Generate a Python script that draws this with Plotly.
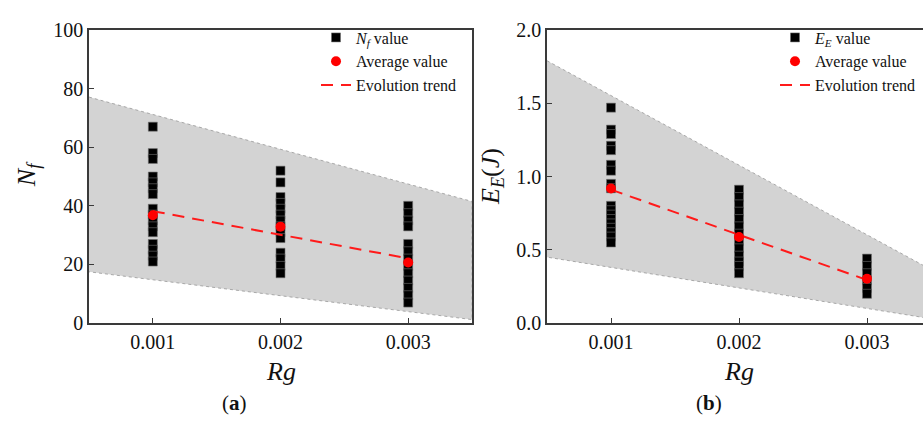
import numpy as np
import plotly.graph_objects as go

# Loading-rate levels (Rg)
rg = [0.001, 0.002, 0.003]

# Individual fatigue lives N_f at each Rg
nf_001 = [67, 58, 56, 50, 48, 46, 44, 39, 37, 35, 33, 31, 27, 25, 23, 21]
nf_002 = [52, 48, 43, 41, 39, 37, 35, 33, 31, 29, 24, 22, 19.5, 17]
nf_003 = [40, 37.5, 35, 33, 27, 24.5, 22, 19.5, 17, 14.5, 12, 9.5, 7]
nf_avg = [36.8, 32.9, 20.7]

# Individual dissipated energies E_E (J) at each Rg
ee_001 = [1.47, 1.32, 1.29, 1.21, 1.18, 1.08, 1.04, 0.95, 0.92,
          0.80, 0.77, 0.74, 0.71, 0.68, 0.65, 0.62, 0.59, 0.55]
ee_002 = [0.91, 0.86, 0.81, 0.76, 0.71, 0.66, 0.61, 0.56, 0.51,
          0.46, 0.42, 0.39, 0.34]
ee_003 = [0.44, 0.39, 0.34, 0.29, 0.24, 0.20]
ee_avg = [0.918, 0.587, 0.302]

# Scatter envelope (upper / lower bounds at both ends of the axis)
band_x = [0.0005, 0.0035]
nf_band_upper = [77.1, 41.5]
nf_band_lower = [17.5, 1.2]
ee_band_upper = [1.79, 0.365]
ee_band_lower = [0.45, 0.03]

FONT = "Times New Roman, Liberation Serif, Tinos, serif"
AXIS_COLOR = "#3a3a3a"
W, H = 923, 428


def px_x(p):
    return p / W


def px_y(p):
    return 1 - p / H


fig = go.Figure()


def add_panel(xa, ya, legend, groups, avg, up, lo, value_label):
    # envelope polygon
    fig.add_trace(go.Scatter(
        x=band_x + band_x[::-1], y=up + lo[::-1],
        fill="toself", fillcolor="#d3d3d3",
        line=dict(color="#a8a8a8", width=1, dash="dot"),
        mode="lines", showlegend=False, hoverinfo="skip",
        xaxis=xa, yaxis=ya,
    ))
    # individual values
    xs, ys = [], []
    for r, vals in zip(rg, groups):
        xs += [r] * len(vals)
        ys += vals
    fig.add_trace(go.Scatter(
        x=xs, y=ys, mode="markers", name=value_label,
        marker=dict(symbol="square", size=9, color="black",
                    line=dict(color="#707070", width=0.6)),
        xaxis=xa, yaxis=ya, legend=legend, legendrank=1,
    ))
    # linear trend of the averages
    k, b = np.polyfit(rg, avg, 1)
    tx = [rg[0], rg[-1]]
    fig.add_trace(go.Scatter(
        x=tx, y=[k * t + b for t in tx], mode="lines",
        name="Evolution trend",
        line=dict(color="#ff1a1a", width=2, dash="12px,8px"),
        xaxis=xa, yaxis=ya, legend=legend, legendrank=3,
    ))
    fig.add_trace(go.Scatter(
        x=rg, y=avg, mode="markers", name="Average value",
        marker=dict(symbol="circle", size=10, color="#ff0000"),
        xaxis=xa, yaxis=ya, legend=legend, legendrank=2,
    ))


add_panel("x", "y", "legend", [nf_001, nf_002, nf_003], nf_avg,
          nf_band_upper, nf_band_lower,
          "<i>N</i><sub><i>f</i></sub> value")
add_panel("x2", "y2", "legend2", [ee_001, ee_002, ee_003], ee_avg,
          ee_band_upper, ee_band_lower,
          "<i>E</i><sub><i>E</i></sub> value")

tick_font = dict(family=FONT, size=20, color="#111111")
axis_common = dict(
    showline=True, linecolor=AXIS_COLOR, linewidth=1.5,
    ticks="inside", ticklen=5, tickcolor=AXIS_COLOR, tickwidth=1.2,
    showgrid=False, zeroline=False, tickfont=tick_font,
)

y_dom = [px_y(329), px_y(20)]

legend_font = dict(family=FONT, size=16, color="#111111")
fig.update_layout(
    width=W, height=H,
    margin=dict(l=0, r=0, t=0, b=0),
    paper_bgcolor="white", plot_bgcolor="white",
    font=dict(family=FONT, color="#111111"),
    xaxis=dict(domain=[px_x(89), px_x(472)], range=[0.0005, 0.0035],
               tickvals=rg, ticktext=["0.001", "0.002", "0.003"],
               mirror=True, anchor="y", **axis_common),
    yaxis=dict(domain=y_dom, range=[0, 100], tickvals=[0, 20, 40, 60, 80, 100],
               mirror=True, anchor="x", **axis_common),
    xaxis2=dict(domain=[px_x(547), 1.0], range=[0.0005, 0.0034375],
                tickvals=rg, ticktext=["0.001", "0.002", "0.003"],
                mirror=True, anchor="y2", **axis_common),
    yaxis2=dict(domain=y_dom, range=[0, 2.0],
                tickvals=[0, 0.5, 1.0, 1.5, 2.0], tickformat=".1f",
                mirror=False, anchor="x2", **axis_common),
    legend=dict(x=px_x(316), y=px_y(10), xanchor="left", yanchor="top",
                bgcolor="rgba(0,0,0,0)", font=legend_font,
                tracegroupgap=0),
    legend2=dict(x=px_x(775), y=px_y(10), xanchor="left", yanchor="top",
                 bgcolor="rgba(0,0,0,0)", font=legend_font,
                 tracegroupgap=0),
)

title_font = dict(family=FONT, size=26, color="#111111")
label_font = dict(family=FONT, size=21, color="#111111")
annotations = [
    dict(text="<i>N<sub>f</sub></i>", x=px_x(28), y=px_y(172),
         textangle=-90, font=title_font),
    dict(text="<i>E<sub>E</sub></i>(<i>J</i>)", x=px_x(492), y=px_y(175),
         textangle=-90, font=title_font),
    dict(text="<i>Rg</i>", x=px_x(281), y=px_y(380), font=title_font),
    dict(text="<i>Rg</i>", x=px_x(739), y=px_y(380), font=title_font),
    dict(text="(<b>a</b>)", x=px_x(234), y=px_y(413), font=label_font),
    dict(text="(<b>b</b>)", x=px_x(709), y=px_y(413), font=label_font),
]
for a in annotations:
    fig.add_annotation(xref="paper", yref="paper", showarrow=False,
                       xanchor="center", yanchor="middle", **a)

fig.write_html("out.html")
